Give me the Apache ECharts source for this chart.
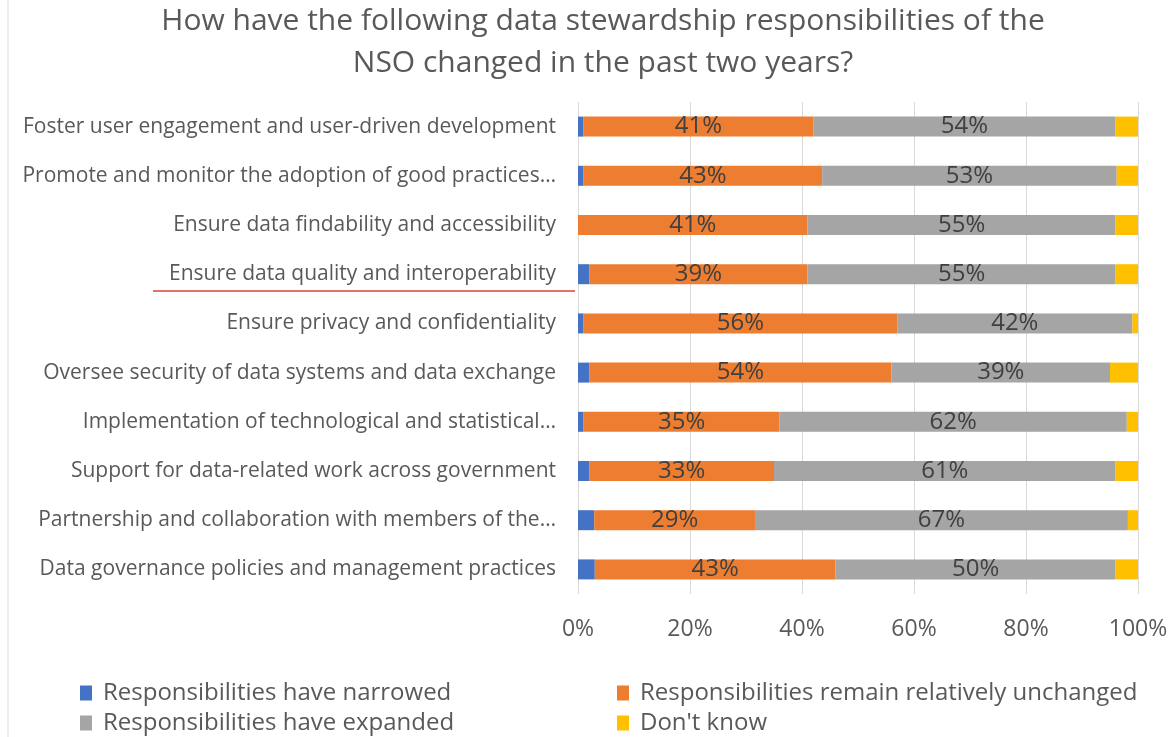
<!DOCTYPE html>
<html><head><meta charset="utf-8">
<script src="https://cdn.jsdelivr.net/npm/echarts@6/dist/echarts.min.js"></script>
<style>html,body{margin:0;padding:0;background:#fff}#c{width:1174px;height:737px}</style>
</head><body><div id="c"></div>
<script>
const categories = [
  "Foster user engagement and user-driven development",
  "Promote and monitor the adoption of good practices…",
  "Ensure data findability and accessibility",
  "Ensure data quality and interoperability",
  "Ensure privacy and confidentiality",
  "Oversee security of data systems and data exchange",
  "Implementation of technological and statistical…",
  "Support for data-related work across government",
  "Partnership and collaboration with members of the…",
  "Data governance policies and management practices"
];
const narrowed  = [1, 1, 0, 2, 1, 2, 1, 2, 2.9, 3];
const unchanged = [41, 42.6, 41, 39, 56, 54, 35, 33, 28.7, 43];
const expanded  = [54, 52.6, 55, 55, 42, 39, 62, 61, 66.6, 50];
const dontKnow  = [4, 3.8, 4, 4, 1, 5, 2, 4, 1.8, 4];
const xTicks = ["0%", "20%", "40%", "60%", "80%", "100%"];
const seriesNames = ['Responsibilities have narrowed', 'Responsibilities remain relatively unchanged',
  'Responsibilities have expanded', "Don't know"];

const FONT = "Open Sans";
const chart = echarts.init(document.getElementById('c'));
const lbl = {show: true, position: 'inside', color: '#404040', fontSize: 24, fontFamily: FONT,
  formatter: p => Math.round(p.value) + '%'};
function lg(name, left, top) {
  return {data: [name], left: left, top: top, itemWidth: 12, itemHeight: 15, icon: 'rect', padding: 0,
    textStyle: {fontFamily: FONT, fontSize: 24, color: '#595959', padding: [0, 0, 0, 6]}};
}
chart.setOption({
  animation: false,
  title: {
    text: "How have the following data stewardship responsibilities of the\nNSO changed in the past two years?",
    left: 598, top: -5, textAlign: 'center',
    textStyle: {fontFamily: FONT, fontSize: 30, fontWeight: 'normal', color: '#595959', lineHeight: 42}
  },
  grid: {left: 578, right: 36, top: 102, height: 492, containLabel: false},
  xAxis: {
    type: 'value', min: 0, max: 100, interval: 20,
    axisLine: {show: false}, axisTick: {show: false},
    splitLine: {lineStyle: {color: '#d9d9d9', width: 1}},
    axisLabel: {formatter: v => xTicks[v / 20], fontFamily: FONT, fontSize: 23, color: '#595959', margin: 24}
  },
  yAxis: {
    type: 'category', data: categories, inverse: true,
    axisLine: {show: false}, axisTick: {show: false},
    axisLabel: {fontFamily: FONT, fontSize: 21, color: '#595959', margin: 22}
  },
  legend: [
    lg(seriesNames[0], 80, 681),
    lg(seriesNames[2], 80, 711),
    lg(seriesNames[1], 617, 681),
    lg(seriesNames[3], 617, 711)
  ],
  graphic: [
    {type: 'line', shape: {x1: 8, y1: 0, x2: 8, y2: 737}, style: {stroke: '#d9d9d9', lineWidth: 1}},
    {type: 'line', shape: {x1: 153, y1: 291, x2: 575, y2: 291}, style: {stroke: '#d9403a', lineWidth: 1.5}}
  ],
  series: [
    {name: seriesNames[0], type: 'bar', stack: 's', data: narrowed, barWidth: 20, itemStyle: {color: '#4472C4'}},
    {name: seriesNames[1], type: 'bar', stack: 's', data: unchanged, barWidth: 20, itemStyle: {color: '#ED7D31'}, label: lbl},
    {name: seriesNames[2], type: 'bar', stack: 's', data: expanded, barWidth: 20, itemStyle: {color: '#A5A5A5'}, label: lbl},
    {name: seriesNames[3], type: 'bar', stack: 's', data: dontKnow, barWidth: 20, itemStyle: {color: '#FFC000'}}
  ]
});
</script></body></html>
